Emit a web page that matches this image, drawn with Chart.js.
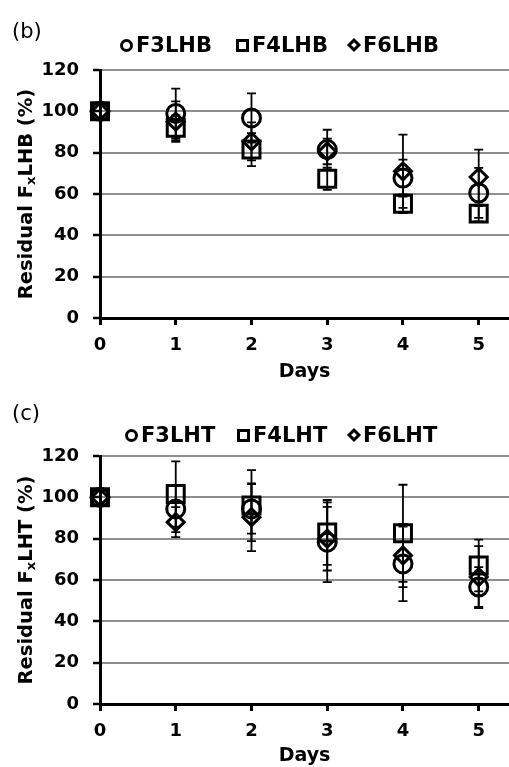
<!DOCTYPE html>
<html>
<head>
<meta charset="utf-8">
<script src="https://cdn.jsdelivr.net/npm/chart.js@4.4.0/dist/chart.umd.min.js"></script>
<style>
  body { margin: 0; background: #fff; width: 509px; height: 767px; overflow: hidden; font-family: 'DejaVu Sans', sans-serif; }
  .panel { position: relative; width: 509px; }
  .tag { position: absolute; left: 12px; font: 21px 'DejaVu Sans', sans-serif; color: #000; line-height: 24px; }
  .item { position: absolute; display: flex; align-items: center; font: bold 21px 'DejaVu Sans', sans-serif; color: #000; line-height: 24px; transform: translateY(-50%); }
  .mk { box-sizing: border-box; border: 3px solid #000; margin-right: 3px; }
  .mk.circle { width: 13px; height: 13px; border-radius: 50%; }
  .mk.square { width: 13px; height: 13px; }
  .mk.diamond { width: 10px; height: 10px; transform: rotate(45deg); margin: 0 4px 0 2px; }
  canvas { display: block; }
</style>
</head>
<body>

<div class="panel" id="panelB" style="height:383px">
  <div class="tag" style="top:19px">(b)</div>
  <canvas id="chartB" width="509" height="383"></canvas>
</div>
<div class="panel" id="panelC" style="height:384px">
  <div class="tag" style="top:18px">(c)</div>
  <canvas id="chartC" width="509" height="384"></canvas>
</div>

<script>
// Days on the x axis
const days = [0, 1, 2, 3, 4, 5];
const yTicks = [0, 20, 40, 60, 80, 100, 120];

// (b) residual FxLHB (%), mean and error
const namesB = ['F3LHB', 'F4LHB', 'F6LHB'];
const f3lhb = [100, 99, 96.8, 81.5, 67.7, 60.5];
const f3lhbErr = [0, 12, 11.9, 9.6, 8.9, 12.1];
const f4lhb = [100, 92, 81.5, 67.4, 55.3, 50.5];
const f4lhbErr = [0, 6, 8, 5.4, 4.5, 3.7];
const f6lhb = [100, 95, 85.5, 80.6, 71, 68.2];
const f6lhbErr = [0, 9.8, 9.2, 6.2, 17.7, 13.3];

// (c) residual FxLHT (%), mean and error
const namesC = ['F3LHT', 'F4LHT', 'F6LHT'];
const f3lht = [100, 94.4, 94.4, 78.3, 67.8, 56.6];
const f3lhtErr = [0, 11.2, 12, 19.3, 18, 9.6];
const f4lht = [100, 101.6, 96, 83, 82.6, 67];
const f4lhtErr = [0, 15.8, 17.2, 15.7, 23.5, 12.5];
const f6lht = [100, 88, 90.4, 80, 71.9, 61.4];
const f6lhtErr = [0, 7.3, 16.4, 15.4, 15.3, 15];

const STYLES = [
  { pointStyle: 'circle', radius: 9, cls: 'circle' },
  { pointStyle: 'rect', radius: 12, cls: 'square' },
  { pointStyle: 'rectRot', radius: 8.5, cls: 'diamond' },
];
const GRID = '#8e8e8e';
const FONT = "'DejaVu Sans', sans-serif";

// error bars drawn under the open markers
const errorBars = {
  id: 'errorBars',
  beforeDatasetsDraw(chart) {
    const { ctx, scales: { x, y } } = chart;
    ctx.save();
    ctx.strokeStyle = '#000';
    ctx.lineWidth = 1.8;
    chart.data.datasets.forEach(ds => {
      ds.data.forEach((p, i) => {
        const e = ds.errors[i];
        if (!e) return;
        const px = x.getPixelForValue(p.x);
        const top = y.getPixelForValue(p.y + e);
        const bot = y.getPixelForValue(p.y - e);
        ctx.beginPath();
        ctx.moveTo(px, top); ctx.lineTo(px, bot);
        ctx.moveTo(px - 4.5, top); ctx.lineTo(px + 4.5, top);
        ctx.moveTo(px - 4.5, bot); ctx.lineTo(px + 4.5, bot);
        ctx.stroke();
      });
    });
    ctx.restore();
  },
};

// rotated y title with subscript x
const yTitle = {
  id: 'yTitle',
  afterDraw(chart, args, opts) {
    const { ctx, chartArea } = chart;
    const big = `bold 19.5px ${FONT}`, small = `bold 13px ${FONT}`;
    const parts = [['Residual F', big, 0], ['x', small, 5], [opts.rest, big, 0]];
    ctx.save();
    let total = 0;
    parts.forEach(p => { ctx.font = p[1]; total += ctx.measureText(p[0]).width; });
    ctx.translate(27, (chartArea.top + chartArea.bottom) / 2);
    ctx.rotate(-Math.PI / 2);
    ctx.fillStyle = '#000';
    ctx.textBaseline = 'middle';
    ctx.textAlign = 'left';
    let cx = -total / 2;
    parts.forEach(p => {
      ctx.font = p[1];
      ctx.fillText(p[0], cx, p[2]);
      cx += ctx.measureText(p[0]).width;
    });
    ctx.restore();
  },
};

function addLegend(panelId, names, lefts, cy) {
  const panel = document.getElementById(panelId);
  names.forEach((n, i) => {
    const it = document.createElement('div');
    it.className = 'item';
    it.style.left = lefts[i] + 'px';
    it.style.top = cy + 'px';
    it.innerHTML = `<span class="mk ${STYLES[i].cls}"></span><span>${n}</span>`;
    panel.appendChild(it);
  });
}

function renderPanel(canvasId, names, series, errors, rest, topPad, xHeight) {
  const ctx = document.getElementById(canvasId);
  return new Chart(ctx, {
    type: 'scatter',
    data: {
      datasets: names.map((n, k) => ({
        label: n,
        data: days.map((d, i) => ({ x: d, y: series[k][i] })),
        errors: errors[k],
        pointStyle: STYLES[k].pointStyle,
        pointRadius: STYLES[k].radius,
        pointHoverRadius: STYLES[k].radius,
        borderColor: '#000',
        backgroundColor: 'rgba(0,0,0,0)',
        pointBorderWidth: 3,
        showLine: false,
        clip: false,
      })),
    },
    options: {
      responsive: false,
      animation: false,
      devicePixelRatio: 1,
      layout: { autoPadding: false, padding: { top: topPad, right: 0, bottom: 0, left: 0 } },
      plugins: {
        legend: { display: false },
        tooltip: { enabled: false },
        yTitle: { rest },
      },
      scales: {
        x: {
          type: 'linear', min: 0, max: 5.4,
          afterBuildTicks: s => { s.ticks = days.map(d => ({ value: d })); },
          afterFit: s => { s.height = xHeight; },
          grid: { drawOnChartArea: false, tickLength: 7, tickColor: '#000', tickWidth: 3 },
          border: { color: '#000', width: 3 },
          ticks: { color: '#000', font: { family: FONT, size: 18, weight: 'bold' }, padding: 10, maxRotation: 0 },
          title: { display: true, text: 'Days', color: '#000', font: { family: FONT, size: 19, weight: 'bold' }, padding: 0 },
        },
        y: {
          min: 0, max: 120,
          afterBuildTicks: s => { s.ticks = yTicks.map(v => ({ value: v })); },
          afterFit: s => { s.width = 100; },
          grid: {
            color: c => (c.tick && c.tick.value === 0 ? '#000' : GRID),
            lineWidth: 2, tickLength: 7, tickColor: '#000', tickWidth: 2.5,
          },
          border: { color: '#000', width: 3 },
          ticks: { color: '#000', font: { family: FONT, size: 18, weight: 'bold' }, padding: 14 },
        },
      },
    },
    plugins: [errorBars, yTitle],
  });
}

renderPanel('chartB', namesB, [f3lhb, f4lhb, f6lhb], [f3lhbErr, f4lhbErr, f6lhbErr], 'LHB (%)', 70, 65);
renderPanel('chartC', namesC, [f3lht, f4lht, f6lht], [f3lhtErr, f4lhtErr, f6lhtErr], 'LHT (%)', 73, 63);
addLegend('panelB', namesB, [120, 236, 347], 45);
addLegend('panelC', namesC, [125, 237, 347], 52);
</script>
</body>
</html>
